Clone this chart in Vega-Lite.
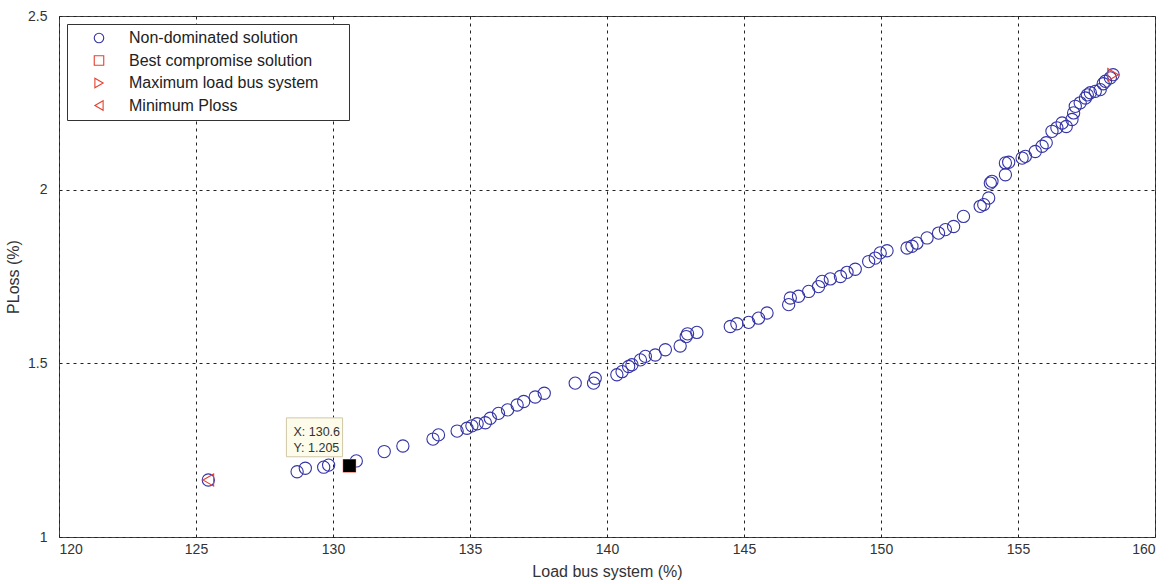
{
  "$schema": "https://vega.github.io/schema/vega-lite/v6.json",
  "width": 1096,
  "height": 521,
  "autosize": {"type": "none"},
  "padding": {"left": 59, "top": 16, "right": 16, "bottom": 47},
  "background": "white",
  "config": {
    "font": "Liberation Sans",
    "view": {"stroke": "#444", "strokeWidth": 1},
    "axis": {
      "labelFont": "Liberation Sans",
      "titleFont": "Liberation Sans",
      "labelColor": "#333",
      "titleColor": "#333",
      "labelFontSize": 14,
      "titleFontSize": 16,
      "titleFontWeight": "normal",
      "grid": true,
      "gridColor": "#222",
      "gridDash": [3, 4],
      "gridWidth": 1,
      "gridOpacity": 1,
      "ticks": false,
      "domain": false
    }
  },
  "datasets": {
    "pts": [
      {"load": 125.45, "ploss": 1.164, "type": "Non-dominated solution"},
      {"load": 128.69, "ploss": 1.188, "type": "Non-dominated solution"},
      {"load": 128.99, "ploss": 1.198, "type": "Non-dominated solution"},
      {"load": 129.66, "ploss": 1.201, "type": "Non-dominated solution"},
      {"load": 129.84, "ploss": 1.207, "type": "Non-dominated solution"},
      {"load": 130.85, "ploss": 1.219, "type": "Non-dominated solution"},
      {"load": 131.87, "ploss": 1.246, "type": "Non-dominated solution"},
      {"load": 132.55, "ploss": 1.262, "type": "Non-dominated solution"},
      {"load": 133.65, "ploss": 1.282, "type": "Non-dominated solution"},
      {"load": 133.85, "ploss": 1.294, "type": "Non-dominated solution"},
      {"load": 134.53, "ploss": 1.305, "type": "Non-dominated solution"},
      {"load": 134.89, "ploss": 1.313, "type": "Non-dominated solution"},
      {"load": 135.07, "ploss": 1.320, "type": "Non-dominated solution"},
      {"load": 135.26, "ploss": 1.326, "type": "Non-dominated solution"},
      {"load": 135.56, "ploss": 1.329, "type": "Non-dominated solution"},
      {"load": 135.74, "ploss": 1.342, "type": "Non-dominated solution"},
      {"load": 136.04, "ploss": 1.356, "type": "Non-dominated solution"},
      {"load": 136.37, "ploss": 1.366, "type": "Non-dominated solution"},
      {"load": 136.72, "ploss": 1.380, "type": "Non-dominated solution"},
      {"load": 136.96, "ploss": 1.390, "type": "Non-dominated solution"},
      {"load": 137.38, "ploss": 1.403, "type": "Non-dominated solution"},
      {"load": 137.71, "ploss": 1.414, "type": "Non-dominated solution"},
      {"load": 138.84, "ploss": 1.443, "type": "Non-dominated solution"},
      {"load": 139.51, "ploss": 1.443, "type": "Non-dominated solution"},
      {"load": 139.57, "ploss": 1.457, "type": "Non-dominated solution"},
      {"load": 140.36, "ploss": 1.467, "type": "Non-dominated solution"},
      {"load": 140.55, "ploss": 1.476, "type": "Non-dominated solution"},
      {"load": 140.79, "ploss": 1.491, "type": "Non-dominated solution"},
      {"load": 140.91, "ploss": 1.496, "type": "Non-dominated solution"},
      {"load": 141.22, "ploss": 1.510, "type": "Non-dominated solution"},
      {"load": 141.40, "ploss": 1.520, "type": "Non-dominated solution"},
      {"load": 141.76, "ploss": 1.524, "type": "Non-dominated solution"},
      {"load": 142.13, "ploss": 1.539, "type": "Non-dominated solution"},
      {"load": 142.67, "ploss": 1.550, "type": "Non-dominated solution"},
      {"load": 142.89, "ploss": 1.577, "type": "Non-dominated solution"},
      {"load": 142.94, "ploss": 1.585, "type": "Non-dominated solution"},
      {"load": 143.28, "ploss": 1.589, "type": "Non-dominated solution"},
      {"load": 144.50, "ploss": 1.606, "type": "Non-dominated solution"},
      {"load": 144.74, "ploss": 1.614, "type": "Non-dominated solution"},
      {"load": 145.17, "ploss": 1.618, "type": "Non-dominated solution"},
      {"load": 145.53, "ploss": 1.630, "type": "Non-dominated solution"},
      {"load": 145.84, "ploss": 1.645, "type": "Non-dominated solution"},
      {"load": 146.63, "ploss": 1.669, "type": "Non-dominated solution"},
      {"load": 146.69, "ploss": 1.688, "type": "Non-dominated solution"},
      {"load": 146.99, "ploss": 1.693, "type": "Non-dominated solution"},
      {"load": 147.36, "ploss": 1.707, "type": "Non-dominated solution"},
      {"load": 147.72, "ploss": 1.721, "type": "Non-dominated solution"},
      {"load": 147.85, "ploss": 1.736, "type": "Non-dominated solution"},
      {"load": 148.15, "ploss": 1.743, "type": "Non-dominated solution"},
      {"load": 148.52, "ploss": 1.750, "type": "Non-dominated solution"},
      {"load": 148.76, "ploss": 1.762, "type": "Non-dominated solution"},
      {"load": 149.06, "ploss": 1.771, "type": "Non-dominated solution"},
      {"load": 149.55, "ploss": 1.793, "type": "Non-dominated solution"},
      {"load": 149.79, "ploss": 1.803, "type": "Non-dominated solution"},
      {"load": 149.97, "ploss": 1.818, "type": "Non-dominated solution"},
      {"load": 150.22, "ploss": 1.824, "type": "Non-dominated solution"},
      {"load": 150.95, "ploss": 1.832, "type": "Non-dominated solution"},
      {"load": 151.13, "ploss": 1.837, "type": "Non-dominated solution"},
      {"load": 151.31, "ploss": 1.846, "type": "Non-dominated solution"},
      {"load": 151.68, "ploss": 1.861, "type": "Non-dominated solution"},
      {"load": 152.10, "ploss": 1.875, "type": "Non-dominated solution"},
      {"load": 152.35, "ploss": 1.885, "type": "Non-dominated solution"},
      {"load": 152.65, "ploss": 1.894, "type": "Non-dominated solution"},
      {"load": 153.01, "ploss": 1.923, "type": "Non-dominated solution"},
      {"load": 153.62, "ploss": 1.952, "type": "Non-dominated solution"},
      {"load": 153.75, "ploss": 1.957, "type": "Non-dominated solution"},
      {"load": 153.93, "ploss": 1.976, "type": "Non-dominated solution"},
      {"load": 153.99, "ploss": 2.019, "type": "Non-dominated solution"},
      {"load": 154.05, "ploss": 2.024, "type": "Non-dominated solution"},
      {"load": 154.54, "ploss": 2.043, "type": "Non-dominated solution"},
      {"load": 154.54, "ploss": 2.077, "type": "Non-dominated solution"},
      {"load": 154.66, "ploss": 2.079, "type": "Non-dominated solution"},
      {"load": 155.15, "ploss": 2.091, "type": "Non-dominated solution"},
      {"load": 155.27, "ploss": 2.096, "type": "Non-dominated solution"},
      {"load": 155.63, "ploss": 2.110, "type": "Non-dominated solution"},
      {"load": 155.88, "ploss": 2.125, "type": "Non-dominated solution"},
      {"load": 156.03, "ploss": 2.135, "type": "Non-dominated solution"},
      {"load": 156.24, "ploss": 2.168, "type": "Non-dominated solution"},
      {"load": 156.42, "ploss": 2.178, "type": "Non-dominated solution"},
      {"load": 156.61, "ploss": 2.192, "type": "Non-dominated solution"},
      {"load": 156.76, "ploss": 2.182, "type": "Non-dominated solution"},
      {"load": 156.97, "ploss": 2.202, "type": "Non-dominated solution"},
      {"load": 157.03, "ploss": 2.221, "type": "Non-dominated solution"},
      {"load": 157.09, "ploss": 2.240, "type": "Non-dominated solution"},
      {"load": 157.27, "ploss": 2.250, "type": "Non-dominated solution"},
      {"load": 157.46, "ploss": 2.264, "type": "Non-dominated solution"},
      {"load": 157.53, "ploss": 2.273, "type": "Non-dominated solution"},
      {"load": 157.64, "ploss": 2.279, "type": "Non-dominated solution"},
      {"load": 157.82, "ploss": 2.283, "type": "Non-dominated solution"},
      {"load": 158.00, "ploss": 2.288, "type": "Non-dominated solution"},
      {"load": 158.11, "ploss": 2.305, "type": "Non-dominated solution"},
      {"load": 158.19, "ploss": 2.312, "type": "Non-dominated solution"},
      {"load": 158.37, "ploss": 2.322, "type": "Non-dominated solution"},
      {"load": 158.47, "ploss": 2.331, "type": "Non-dominated solution"},
      {"load": 130.6, "ploss": 1.205, "type": "Best compromise solution"},
      {"load": 158.47, "ploss": 2.331, "type": "Maximum load bus system"},
      {"load": 125.45, "ploss": 1.164, "type": "Minimum Ploss"}
    ],
    "tip": [
      {"load": 130.6, "ploss": 1.205, "label": "X: 130.6\nY: 1.205"}
    ]
  },
  "layer": [
    {
      "data": {"name": "pts"},
      "mark": {"type": "point", "filled": false, "strokeWidth": 1.1, "size": 150, "opacity": 1},
      "encoding": {
        "x": {
          "field": "load", "type": "quantitative",
          "scale": {"domain": [120, 160], "nice": false, "zero": false},
          "axis": {"title": "Load bus system (%)", "values": [120, 125, 130, 135, 140, 145, 150, 155, 160], "labelPadding": 5, "titlePadding": 7}
        },
        "y": {
          "field": "ploss", "type": "quantitative",
          "scale": {"domain": [1, 2.5], "nice": false, "zero": false},
          "axis": {"title": "PLoss (%)", "values": [1, 1.5, 2, 2.5], "labelExpr": "datum.value + ''", "labelPadding": 12, "titlePadding": 6}
        },
        "shape": {
          "field": "type", "type": "nominal", "sort": null,
          "scale": {
            "domain": ["Non-dominated solution", "Best compromise solution", "Maximum load bus system", "Minimum Ploss"],
            "range": ["circle", "square", "triangle-right", "triangle-left"]
          },
          "legend": {
            "title": null, "orient": "none", "legendX": 8, "legendY": 8,
            "fillColor": "white", "strokeColor": "#333", "padding": 6,
            "labelFont": "Liberation Sans", "labelFontSize": 16, "labelColor": "#222", "labelLimit": 0,
            "symbolSize": 90, "symbolStrokeWidth": 1.1, "symbolOffset": 18,
            "labelOffset": 22, "rowPadding": 6.5,
            "labelExpr": "datum.label + '\u2800\u2800'"
          }
        },
        "color": {
          "field": "type", "type": "nominal", "sort": null,
          "scale": {
            "domain": ["Non-dominated solution", "Best compromise solution", "Maximum load bus system", "Minimum Ploss"],
            "range": ["#3434a6", "#e8402f", "#e8402f", "#e8402f"]
          },
          "legend": {
            "title": null, "orient": "none", "legendX": 8, "legendY": 8,
            "fillColor": "white", "strokeColor": "#333", "padding": 6,
            "labelFont": "Liberation Sans", "labelFontSize": 16, "labelColor": "#222", "labelLimit": 0,
            "symbolSize": 90, "symbolStrokeWidth": 1.1, "symbolOffset": 18,
            "labelOffset": 22, "rowPadding": 6.5,
            "labelExpr": "datum.label + '\u2800\u2800'"
          }
        }
      }
    },
    {
      "data": {"name": "tip"},
      "mark": {"type": "point", "shape": "square", "filled": true, "color": "black", "size": 155, "strokeWidth": 1, "opacity": 1},
      "encoding": {
        "x": {"field": "load", "type": "quantitative"},
        "y": {"field": "ploss", "type": "quantitative"}
      }
    },
    {
      "data": {"name": "tip"},
      "mark": {"type": "rect", "fill": "#fdfbea", "stroke": "#cfc8a8", "strokeWidth": 1},
      "encoding": {
        "x": {"datum": 128.3},
        "x2": {"datum": 130.35},
        "y": {"datum": 1.343},
        "y2": {"datum": 1.231}
      }
    },
    {
      "data": {"name": "tip"},
      "mark": {"type": "text", "align": "left", "baseline": "top", "dx": -56, "dy": -40, "fontSize": 12.5, "font": "Liberation Sans", "color": "#333", "lineBreak": "\n", "lineHeight": 16},
      "encoding": {
        "x": {"field": "load", "type": "quantitative"},
        "y": {"field": "ploss", "type": "quantitative"},
        "text": {"field": "label"}
      }
    }
  ]
}
